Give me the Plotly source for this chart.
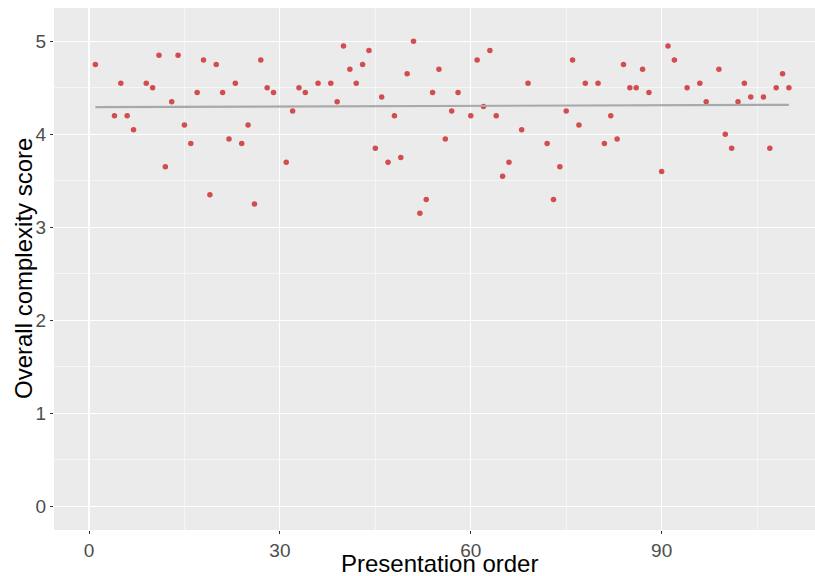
import numpy as np
import plotly.graph_objects as go

order = [1, 4, 5, 6, 7, 9, 10, 11, 12, 13, 14, 15, 16, 17, 18, 19, 20, 21, 22, 23, 24, 25, 26,
         27, 28, 29, 31, 32, 33, 34, 36, 38, 39, 40, 41, 42, 43, 44, 45, 46, 47, 48, 49, 50,
         51, 52, 53, 54, 55, 56, 57, 58, 60, 61, 62, 63, 64, 65, 66, 68, 69, 72, 73, 74, 75,
         76, 77, 78, 80, 81, 82, 83, 84, 85, 86, 87, 88, 90, 91, 92, 94, 96, 97, 99, 100,
         101, 102, 103, 104, 106, 107, 108, 109, 110]
score = [4.75, 4.2, 4.55, 4.2, 4.05, 4.55, 4.5, 4.85, 3.65, 4.35, 4.85, 4.1, 3.9, 4.45, 4.8, 3.35,
         4.75, 4.45, 3.95, 4.55, 3.9, 4.1, 3.25,
         4.8, 4.5, 4.45, 3.7, 4.25, 4.5, 4.45, 4.55, 4.55, 4.35, 4.95, 4.7, 4.55, 4.75, 4.9, 3.85,
         4.4, 3.7, 4.2, 3.75, 4.65,
         5.0, 3.15, 3.3, 4.45, 4.7, 3.95, 4.25, 4.45, 4.2, 4.8, 4.3, 4.9, 4.2, 3.55, 3.7, 4.05,
         4.55, 3.9, 3.3, 3.65, 4.25,
         4.8, 4.1, 4.55, 4.55, 3.9, 4.2, 3.95, 4.75, 4.5, 4.5, 4.7, 4.45, 3.6, 4.95, 4.8, 4.5,
         4.55, 4.35, 4.7, 4.0,
         3.85, 4.35, 4.55, 4.4, 4.4, 3.85, 4.5, 4.65, 4.5]

x_ticks = [0, 30, 60, 90]
y_ticks = [0, 1, 2, 3, 4, 5]
x_title = "Presentation order"
y_title = "Overall complexity score"

xa = np.array(order, dtype=float)
ya = np.array(score, dtype=float)
slope, intercept = np.polyfit(xa, ya, 1)
fx = np.array([xa.min(), xa.max()])
fy = intercept + slope * fx

FONT = "Liberation Sans, Arial, sans-serif"
W, H = 815, 576
ML, MR, MT, MB = 54, 0, 8, 46

fig = go.Figure()
fig.add_trace(go.Scatter(x=order, y=score, mode="markers",
                         marker=dict(color="#d24d50", size=5.5, line=dict(width=0)),
                         showlegend=False, hoverinfo="skip"))
fig.add_trace(go.Scatter(x=fx, y=fy, mode="lines",
                         line=dict(color="#a9a9a9", width=2.2),
                         showlegend=False, hoverinfo="skip"))

ph = H - MT - MB
pw = W - ML - MR
fig.add_annotation(text=x_title, xref="paper", yref="paper",
                   x=(439 - ML) / pw, y=-(563 - (H - MB)) / ph, xanchor="center", yanchor="middle",
                   showarrow=False, font=dict(size=24, color="black", family=FONT))
fig.add_annotation(text=y_title, xref="paper", yref="paper",
                   x=-(ML - 23) / pw, y=0.5, xanchor="center", yanchor="middle",
                   textangle=-90,
                   showarrow=False, font=dict(size=24, color="black", family=FONT))

fig.update_layout(
    width=W, height=H,
    margin=dict(l=ML, r=MR, t=MT, b=MB, autoexpand=False),
    paper_bgcolor="white", plot_bgcolor="#ebebeb",
    font=dict(family=FONT),
    xaxis=dict(range=[-5.5, 114.1], tickvals=x_ticks, ticktext=[str(v) for v in x_ticks],
               showgrid=True, gridcolor="white", gridwidth=1.1, zeroline=False,
               ticks="outside", ticklen=3, tickcolor="#333333", tickwidth=1,
               tickfont=dict(size=19, color="#4d4d4d", family=FONT),
               minor=dict(tickvals=[15, 45, 75, 105], showgrid=True, gridcolor="white", gridwidth=0.55),
               automargin=False, showline=False, fixedrange=True),
    yaxis=dict(range=[-0.255, 5.358], tickvals=y_ticks, ticktext=[str(v) for v in y_ticks],
               showgrid=True, gridcolor="white", gridwidth=1.1, zeroline=False,
               ticks="outside", ticklen=3, tickcolor="#333333", tickwidth=1,
               tickfont=dict(size=19, color="#4d4d4d", family=FONT),
               minor=dict(tickvals=[0.5, 1.5, 2.5, 3.5, 4.5], showgrid=True, gridcolor="white", gridwidth=0.55),
               automargin=False, showline=False, fixedrange=True),
)

fig.write_html("out.html", config={"staticPlot": True},
               post_script="document.body.style.margin='0';document.body.style.overflow='hidden';")
